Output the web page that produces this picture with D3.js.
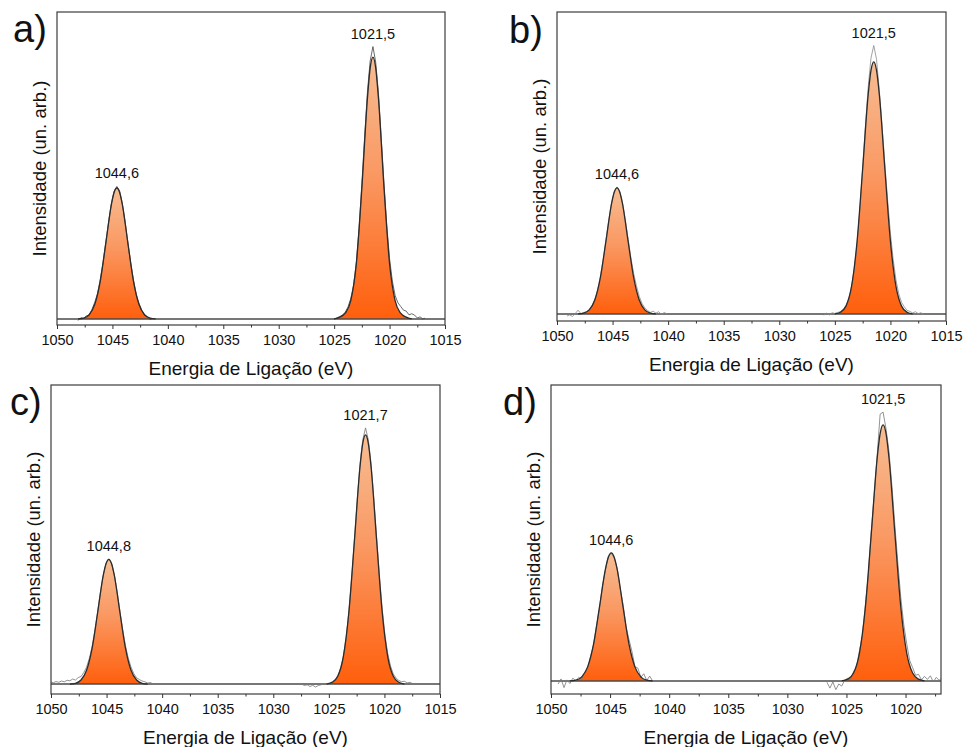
<!DOCTYPE html>
<html>
<head>
<meta charset="utf-8">
<script src="https://cdn.jsdelivr.net/npm/d3@7"></script>
<style>
  body { margin: 0; background: #fff; }
  text { font-family: "Liberation Sans", Arial, sans-serif; fill: #111; }
</style>
</head>
<body>
<svg id="chart" width="964" height="747"></svg>
<script>
// eixos
const ticksLong = [1050, 1045, 1040, 1035, 1030, 1025, 1020, 1015]
const ticksShort = [1050, 1045, 1040, 1035, 1030, 1025, 1020]
const minorTicks = [1047.5, 1042.5, 1037.5, 1032.5, 1027.5, 1022.5, 1017.5]

// curvas ajustadas (intensidade relativa, pico maior = 100)
const fitSmall = [0, 0.3, 1.6, 5.5, 14.4, 28.8, 43.6, 48.3, 50, 48.3, 43.6, 28.8, 14.4, 5.5, 1.6, 0.3, 0]
const fitBig = [0, 0.7, 3.1, 10.9, 28.8, 57.5, 87.1, 96.6, 100, 96.6, 87.1, 57.5, 28.8, 10.9, 3.1, 0.7, 0]
const fitBigA = [0, 0.7, 2.2, 7, 21.1, 50, 84.1, 95.8, 100, 95.8, 84.1, 50, 21.1, 7, 2.2, 0.7, 0]

const fitEa1 = [1048.1, 1047.6, 1047.1, 1046.6, 1046.1, 1045.6, 1045.1, 1044.85, 1044.6, 1044.35, 1044.1, 1043.6, 1043.1, 1042.6, 1042.1, 1041.6, 1041.1]
const fitEa2 = [1025, 1024.5, 1024, 1023.5, 1023, 1022.5, 1022, 1021.75, 1021.5, 1021.25, 1021, 1020.5, 1020, 1019.5, 1019, 1018.5, 1018]
const fitEc1 = [1048.3, 1047.8, 1047.3, 1046.8, 1046.3, 1045.8, 1045.3, 1045.05, 1044.8, 1044.55, 1044.3, 1043.8, 1043.3, 1042.8, 1042.3, 1041.8, 1041.3]
const fitEc2 = [1025.2, 1024.7, 1024.2, 1023.7, 1023.2, 1022.7, 1022.2, 1021.95, 1021.7, 1021.45, 1021.2, 1020.7, 1020.2, 1019.7, 1019.2, 1018.7, 1018.2]
const fitEd1 = [1048.4, 1047.9, 1047.4, 1046.9, 1046.4, 1045.9, 1045.4, 1045.15, 1044.9, 1044.65, 1044.4, 1043.9, 1043.4, 1042.9, 1042.4, 1041.9, 1041.4]
const fitEd2 = [1025.4, 1024.9, 1024.4, 1023.9, 1023.4, 1022.9, 1022.4, 1022.15, 1021.9, 1021.65, 1021.4, 1020.9, 1020.4, 1019.9, 1019.4, 1018.9, 1018.4]

// dados experimentais
const rawEa1 = [1048.1, 1047.85, 1047.6, 1047.35, 1047.1, 1046.85, 1046.6, 1046.35, 1046.1, 1045.85, 1045.6, 1045.35, 1045.1, 1044.85, 1044.6, 1044.35, 1044.1, 1043.85, 1043.6, 1043.35, 1043.1, 1042.85, 1042.6, 1042.35, 1042.1, 1041.85, 1041.6, 1041.35]
const rawIa1 = [-0.6, 0.5, 0.2, 1.2, 1.4, 3.6, 6.3, 9.6, 15.0, 21.5, 29.3, 36.9, 44.0, 48.8, 50.6, 48.9, 43.9, 36.9, 29.0, 21.4, 14.9, 9.4, 5.9, 3.3, 1.4, 0.9, -0.3, 0.2]
const rawEa2 = [1025, 1024.75, 1024.5, 1024.25, 1024, 1023.75, 1023.5, 1023.25, 1023, 1022.75, 1022.5, 1022.25, 1022, 1021.75, 1021.5, 1021.25, 1021, 1020.75, 1020.5, 1020.25, 1020, 1019.75, 1019.5, 1019.25, 1019, 1018.75, 1018.5, 1018.25, 1018, 1017.75, 1017.5, 1017.25, 1017, 1016.8]
const rawIa2 = [0.0, 0.4, 0.9, 1.5, 2.6, 4.6, 7.8, 12.8, 21.5, 34.5, 51.5, 69.5, 86.5, 98.5, 104.0, 98.0, 86.0, 69.0, 51.5, 35.5, 23.0, 14.5, 9.0, 6.2, 4.8, 3.4, 3.0, 1.6, 2.0, 1.5, 0.4, 0.8, 0.0, 0.3]

const rawEb1 = [1049.1, 1048.85, 1048.6, 1048.35, 1048.1, 1047.85, 1047.6, 1047.35, 1047.1, 1046.85, 1046.6, 1046.35, 1046.1, 1045.85, 1045.6, 1045.35, 1045.1, 1044.85, 1044.6, 1044.35, 1044.1, 1043.85, 1043.6, 1043.35, 1043.1, 1042.85, 1042.6, 1042.35, 1042.1, 1041.85, 1041.6, 1041.35, 1041.1, 1040.85, 1040.6, 1040.35, 1040.1]
const rawIb1 = [-0.8, -0.4, -1.0, 0.2, 1.5, 0.1, 0.6, 0.8, 1.7, 3.2, 5.6, 9.3, 14.6, 21.3, 29.0, 36.8, 43.8, 48.6, 50.4, 48.5, 43.9, 37.2, 29.6, 22.2, 16.0, 11.2, 7.0, 4.2, 2.4, 1.4, 0.6, 1.1, 0.3, 0.9, -0.2, 0.6, 0.0]
const rawEb2 = [1026, 1025.75, 1025.5, 1025.25, 1025, 1024.75, 1024.5, 1024.25, 1024, 1023.75, 1023.5, 1023.25, 1023, 1022.75, 1022.5, 1022.25, 1022, 1021.75, 1021.5, 1021.25, 1021, 1020.75, 1020.5, 1020.25, 1020, 1019.75, 1019.5, 1019.25, 1019, 1018.75, 1018.5, 1018.25, 1018, 1017.75, 1017.5, 1017.25, 1017]
const rawIb2 = [-0.5, 0.3, -0.4, 0.5, 0.2, 0.6, 0.9, 1.8, 3.3, 5.9, 10.6, 17.8, 28.0, 41.5, 57.5, 74.5, 90.0, 101.5, 106.5, 101.0, 88.5, 74.5, 59.5, 45.0, 32.0, 21.5, 13.5, 8.0, 4.6, 2.8, 1.4, 1.0, 0.4, 0.9, 0.1, 0.5, -0.3]

const rawEc1 = [1050, 1049.8, 1049.55, 1049.3, 1049.05, 1048.8, 1048.55, 1048.3, 1048.05, 1047.8, 1047.55, 1047.3, 1047.05, 1046.8, 1046.55, 1046.3, 1046.05, 1045.8, 1045.55, 1045.3, 1045.05, 1044.8, 1044.55, 1044.3, 1044.05, 1043.8, 1043.55, 1043.3, 1043.05, 1042.8, 1042.55, 1042.3, 1042.05, 1041.8, 1041.55, 1041.3, 1041.05, 1040.8]
const rawIc1 = [0.8, 0.5, 1.0, 0.7, 1.2, 0.9, 1.5, 1.3, 2.0, 1.6, 2.6, 3.0, 4.6, 6.8, 10.3, 15.0, 21.4, 29.0, 36.8, 43.6, 48.4, 50.2, 48.4, 43.7, 36.9, 29.2, 21.8, 15.4, 10.4, 6.8, 4.2, 2.5, 1.8, 1.2, 0.9, 0.4, 0.6, 0.0]
const rawEc2 = [1027.45, 1027.2, 1026.95, 1026.7, 1026.45, 1026.2, 1025.95, 1025.7, 1025.45, 1025.2, 1024.95, 1024.7, 1024.45, 1024.2, 1023.95, 1023.7, 1023.45, 1023.2, 1022.95, 1022.7, 1022.45, 1022.2, 1021.95, 1021.7, 1021.45, 1021.2, 1020.95, 1020.7, 1020.45, 1020.2, 1019.95, 1019.7, 1019.45, 1019.2, 1018.95, 1018.7, 1018.45, 1018.2, 1017.95, 1017.7, 1017.45]
const rawIc2 = [0.0, -0.6, -0.3, -1.0, -0.5, -1.2, -0.6, -0.3, 0.2, 0.1, 0.4, 0.8, 1.6, 3.3, 6.2, 11.0, 18.4, 28.9, 42.3, 57.8, 73.8, 88.0, 98.0, 102.8, 98.0, 88.3, 74.2, 58.6, 43.4, 30.2, 19.6, 12.2, 7.2, 4.0, 2.4, 1.4, 0.9, 1.1, 0.5, 0.7, 0.1]

const rawEd1 = [1049.4, 1049.15, 1048.9, 1048.65, 1048.4, 1048.15, 1047.9, 1047.65, 1047.4, 1047.15, 1046.9, 1046.65, 1046.4, 1046.15, 1045.9, 1045.65, 1045.4, 1045.15, 1044.9, 1044.65, 1044.4, 1044.15, 1043.9, 1043.65, 1043.4, 1043.15, 1042.9, 1042.65, 1042.4, 1042.15, 1041.9, 1041.65, 1041.4]
const rawId1 = [-1.2, 0.8, -2.6, 0.4, -1.0, 1.1, 0.0, 1.4, 0.6, 3.4, 5.0, 9.6, 14.0, 21.5, 28.4, 37.0, 43.2, 48.6, 50.0, 48.0, 44.0, 36.2, 29.8, 21.0, 16.2, 11.5, 5.6, 5.0, 1.4, 2.8, 0.2, 1.9, 0.0]
const rawEd2 = [1026.65, 1026.4, 1026.15, 1025.9, 1025.65, 1025.4, 1025.15, 1024.9, 1024.65, 1024.4, 1024.15, 1023.9, 1023.65, 1023.4, 1023.15, 1022.9, 1022.65, 1022.4, 1022.15, 1021.9, 1021.65, 1021.4, 1021.15, 1020.9, 1020.65, 1020.4, 1020.15, 1019.9, 1019.65, 1019.4, 1019.15, 1018.9, 1018.65, 1018.4, 1018.15, 1017.9, 1017.65, 1017.4, 1017.15, 1017.0]
const rawId2 = [-0.5, -2.8, -0.4, -3.4, -1.2, -2.0, 0.3, 1.0, 0.6, 3.6, 5.4, 11.8, 17.6, 29.6, 41.5, 58.4, 72.6, 88.2, 104.2, 105.0, 98.5, 89.5, 76.0, 60.5, 46.0, 32.5, 22.0, 14.5, 8.0, 5.2, 2.2, 2.6, 0.4, 1.8, 0.6, 2.0, -0.4, 1.4, 0.2, 1.0]

// rótulos dos picos
const labelsA = ['1044,6', '1021,5']
const labelsB = ['1044,6', '1021,5']
const labelsC = ['1044,8', '1021,7']
const labelsD = ['1044,6', '1021,5']

const pair = (es, is) => es.map((e, i) => [e, is[i]])

const panels = [
  { letter: 'a)', lx: 13, ly: 42, left: 57, right: 445, top: 12, bottom: 325,
    xDomain: [1050, 1015], yDomain: [-2.3, 117.2], ticks: ticksLong, rawColor: '#444',
    fits: [pair(fitEa1, fitSmall), pair(fitEa2, fitBigA)],
    raws: [pair(rawEa1, rawIa1), pair(rawEa2, rawIa2)], labels: labelsA },
  { letter: 'b)', lx: 509, ly: 43, left: 557, right: 946, top: 12, bottom: 321,
    xDomain: [1050, 1015], yDomain: [-2.8, 119.8], ticks: ticksLong, rawColor: '#8a8a8a',
    fits: [pair(fitEa1, fitSmall), pair(fitEa2, fitBig)],
    raws: [pair(rawEb1, rawIb1), pair(rawEb2, rawIb2)], labels: labelsB },
  { letter: 'c)', lx: 10, ly: 415, left: 51, right: 440, top: 385, bottom: 694,
    xDomain: [1050, 1015], yDomain: [-4, 120], ticks: ticksLong, rawColor: '#777',
    fits: [pair(fitEc1, fitSmall), pair(fitEc2, fitBig)],
    raws: [pair(rawEc1, rawIc1), pair(rawEc2, rawIc2)], labels: labelsC },
  { letter: 'd)', lx: 503, ly: 415, left: 551, right: 941, top: 385, bottom: 694,
    xDomain: [1050, 1017], yDomain: [-5.1, 115.6], ticks: ticksShort, rawColor: '#777',
    fits: [pair(fitEd1, fitSmall), pair(fitEd2, fitBig)],
    raws: [pair(rawEd1, rawId1), pair(rawEd2, rawId2)], labels: labelsD }
]

const svg = d3.select('#chart')

const grad = svg.append('defs').append('linearGradient')
    .attr('id', 'peakFill')
    .attr('x1', 0).attr('y1', 0).attr('x2', 0).attr('y2', 1)
grad.append('stop').attr('offset', '0%').attr('stop-color', '#f7bd93')
grad.append('stop').attr('offset', '45%').attr('stop-color', '#fa9862')
grad.append('stop').attr('offset', '100%').attr('stop-color', '#ff5f0c')

panels.forEach((p, k) => {
  const x = d3.scaleLinear().domain(p.xDomain).range([p.left, p.right])
  const y = d3.scaleLinear().domain(p.yDomain).range([p.bottom, p.top])
  const g = svg.append('g')

  g.append('clipPath').attr('id', 'clip' + k)
    .append('rect').attr('x', p.left).attr('y', p.top)
    .attr('width', p.right - p.left).attr('height', p.bottom - p.top)

  const plot = g.append('g').attr('clip-path', `url(#clip${k})`)

  const area = d3.area().x(d => x(d[0])).y0(y(0)).y1(d => y(d[1])).curve(d3.curveMonotoneX)
  const fitLine = d3.line().x(d => x(d[0])).y(d => y(d[1])).curve(d3.curveMonotoneX)
  const rawLine = d3.line().x(d => x(d[0])).y(d => y(d[1]))

  plot.selectAll('path.fill').data(p.fits).join('path')
      .attr('class', 'fill')
      .attr('d', area)
      .attr('fill', 'url(#peakFill)')

  plot.append('line')
      .attr('x1', p.left).attr('x2', p.right)
      .attr('y1', y(0)).attr('y2', y(0))
      .attr('stroke', '#4a4a4a').attr('stroke-width', 1.5)

  plot.selectAll('path.raw').data(p.raws).join('path')
      .attr('class', 'raw')
      .attr('d', rawLine)
      .attr('fill', 'none')
      .attr('stroke', p.rawColor)
      .attr('stroke-width', 0.8)

  plot.selectAll('path.fit').data(p.fits).join('path')
      .attr('class', 'fit')
      .attr('d', fitLine)
      .attr('fill', 'none')
      .attr('stroke', '#2b2b2b')
      .attr('stroke-width', 1.3)

  // rótulos acima de cada pico
  p.fits.forEach((f, i) => {
    const top = d3.max(p.raws[i], d => d[1])
    const peak = f[d3.maxIndex(f, d => d[1])]
    g.append('text')
        .attr('x', x(peak[0]))
        .attr('y', y(Math.max(top, peak[1])) - 8)
        .attr('text-anchor', 'middle')
        .attr('font-size', 14.5)
        .text(p.labels[i])
  })

  g.append('rect')
      .attr('x', p.left).attr('y', p.top)
      .attr('width', p.right - p.left).attr('height', p.bottom - p.top)
      .attr('fill', 'none').attr('stroke', '#3c3c3c').attr('stroke-width', 1.2)

  const axis = g.append('g').attr('transform', `translate(0,${p.bottom})`)
      .call(d3.axisBottom(x).tickValues(p.ticks).tickSize(4).tickSizeOuter(0)
          .tickPadding(6).tickFormat(d3.format('d')))
  axis.select('.domain').remove()
  axis.selectAll('line').attr('stroke', '#333')
  axis.selectAll('text').attr('font-size', 14.5)

  const minor = g.append('g').attr('transform', `translate(0,${p.bottom})`)
      .call(d3.axisBottom(x).tickValues(minorTicks.filter(v => v >= p.xDomain[1]))
          .tickSize(2.5).tickSizeOuter(0).tickFormat(''))
  minor.select('.domain').remove()
  minor.selectAll('line').attr('stroke', '#333')

  g.append('text')
      .attr('x', (p.left + p.right) / 2)
      .attr('y', p.bottom + 43)
      .attr('text-anchor', 'middle')
      .attr('dominant-baseline', 'central')
      .attr('font-size', 19)
      .text('Energia de Ligação (eV)')

  g.append('text')
      .attr('transform', `translate(${p.left - 18},${(p.top + p.bottom) / 2}) rotate(-90)`)
      .attr('text-anchor', 'middle')
      .attr('dominant-baseline', 'central')
      .attr('font-size', 18.5)
      .text('Intensidade (un. arb.)')

  g.append('text')
      .attr('x', p.lx).attr('y', p.ly)
      .attr('font-size', 38)
      .text(p.letter)
})
</script>
</body>
</html>
